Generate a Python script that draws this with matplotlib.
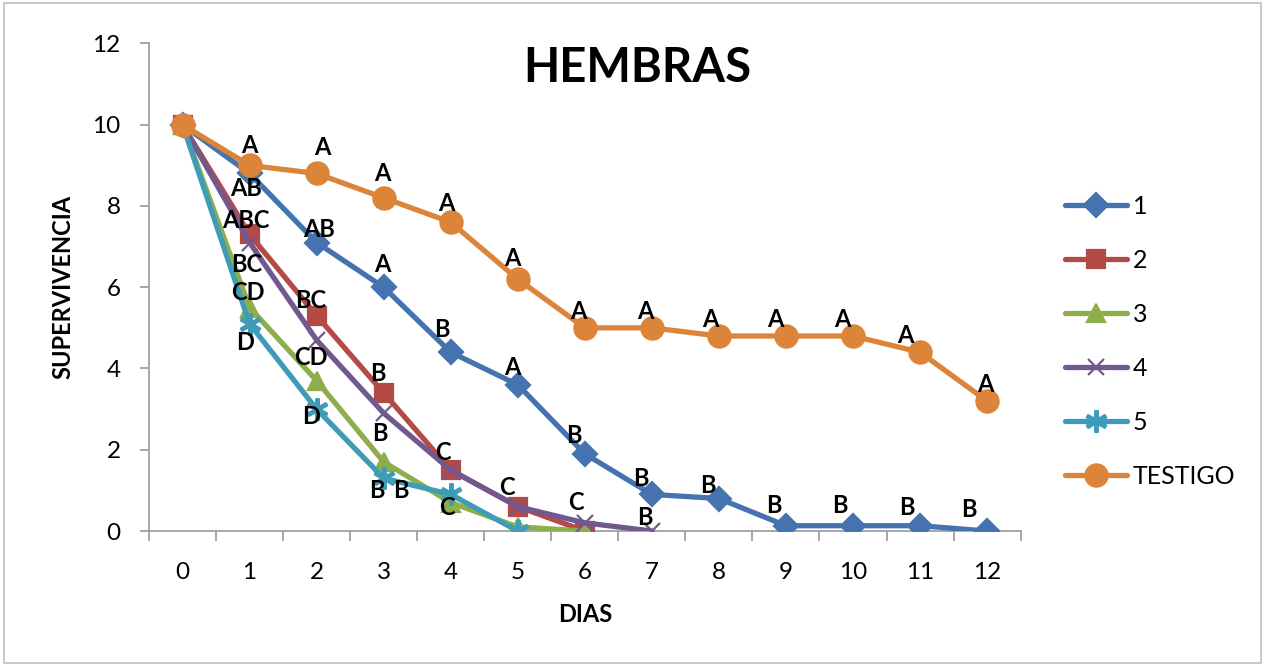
import matplotlib
matplotlib.use("Agg")
import matplotlib.pyplot as plt
from matplotlib.patches import Rectangle

plt.rcParams['font.family'] = ['Lato', 'DejaVu Sans']

dias = list(range(13))
s1 = [10, 8.8, 7.1, 6.0, 4.4, 3.6, 1.9, 0.9, 0.8, 0.13, 0.13, 0.13, 0.0]
s2 = [10, 7.3, 5.3, 3.4, 1.5, 0.6, 0.0]
s3 = [10, 5.5, 3.7, 1.7, 0.7, 0.1, 0.0]
s4 = [10, 7.1, 4.7, 2.9, 1.5, 0.6, 0.2, 0.0]
s5 = [10, 5.1, 3.0, 1.3, 0.9, 0.0]
testigo = [10, 9.0, 8.8, 8.2, 7.6, 6.2, 5.0, 5.0, 4.8, 4.8, 4.8, 4.4, 3.2]
names = ['1', '2', '3', '4', '5', 'TESTIGO']

# significance letters: (text, x, y) in data units
letras = [
    # TESTIGO
    ('A', 1, 9.5), ('A', 2.08, 9.45), ('A', 2.98, 8.8), ('A', 3.93, 8.05),
    ('A', 4.92, 6.7), ('A', 5.9, 5.4), ('A', 6.9, 5.4), ('A', 7.87, 5.2),
    ('A', 8.84, 5.2), ('A', 9.84, 5.2), ('A', 10.78, 4.8), ('A', 11.97, 3.6),
    # 1
    ('AB', 0.95, 8.43), ('AB', 2.03, 7.42), ('A', 2.98, 6.56), ('B', 3.87, 4.96),
    ('A', 4.92, 4.03), ('B', 5.84, 2.34), ('B', 6.83, 1.29), ('B', 7.84, 1.12),
    ('B', 8.82, 0.64), ('B', 9.8, 0.64), ('B', 10.8, 0.57), ('B', 11.73, 0.52),
    # 2
    ('ABC', 0.94, 7.64), ('BC', 1.91, 5.68), ('B', 2.92, 3.88), ('C', 3.89, 1.92),
    ('C', 4.84, 1.08),
    # 4
    ('BC', 0.95, 6.56), ('C', 5.87, 0.69), ('B', 6.9, 0.34),
    # 3
    ('CD', 0.98, 5.87), ('CD', 1.91, 4.27), ('B', 2.95, 2.41), ('C', 3.95, 0.59),
    # 5
    ('D', 0.94, 4.64), ('D', 1.92, 2.82), ('B', 2.9, 1.0), ('B', 3.25, 1.0),
]

colors = ['#4573B0', '#B44A46', '#8DAE4B', '#71588F', '#3E9CB8', '#DD843B']
markers = ['D', 's', '^', 'x', '$\u2217$', 'o']
msizes = [12, 13, 13, 12, 15, 16]

fig = plt.figure(figsize=(12.65, 6.66), dpi=100)
ax = fig.add_axes([0.1178, 0.2027, 0.689, 0.732])

series = [s1, s2, s3, s4, s5, testigo]
for i, (s, c, m, ms, nm) in enumerate(zip(series, colors, markers, msizes, names)):
    ax.plot(dias[:len(s)], s, color=c, lw=3.8, marker=m, markersize=ms,
            markeredgewidth=1.6, label=nm, zorder=3 + i,
            solid_capstyle='round')

for t, x, y in letras:
    ax.text(x, y, t, ha='center', va='center', fontsize=17, fontweight='bold',
            color='black', zorder=20)

ax.set_xlim(-0.5, 12.5)
ax.set_ylim(0, 12)
ax.set_yticks(range(0, 13, 2))
ax.set_xticks(dias)
ax.set_xticks([d - 0.5 for d in dias] + [12.5], minor=True)
ax.tick_params(axis='x', which='major', length=0, labelsize=17.5, pad=22)
ax.tick_params(axis='x', which='minor', length=7, width=1.3, color='#A0A0A0', direction='out')
ax.tick_params(axis='y', length=6.5, width=1.3, color='#A0A0A0', direction='out',
               labelsize=17.5, pad=14)
for sp in ['top', 'right']:
    ax.spines[sp].set_visible(False)
for sp in ['left', 'bottom']:
    ax.spines[sp].set_color('#A0A0A0')
    ax.spines[sp].set_linewidth(1.3)

fig.text(0.4625, 0.0766, 'DIAS', fontsize=17, fontweight='bold', ha='center', va='center')
fig.text(0.0498, 0.569, 'SUPERVIVENCIA', fontsize=17, fontweight='bold', ha='center',
         va='center', rotation=90)
fig.text(0.5036, 0.898, 'HEMBRAS', fontsize=34, fontweight='bold', ha='center', va='center')

leg = fig.legend(loc='upper left', bbox_to_anchor=(0.834, 0.722), frameon=False,
                 fontsize=18, handlelength=2.48, labelspacing=1.24, handletextpad=0.24,
                 borderaxespad=0)

fig.patches.append(Rectangle((0.003, 0.005), 0.994, 0.99, transform=fig.transFigure,
                             fill=False, edgecolor='#BFBFBF', lw=1.2))

fig.savefig('out.png', dpi=100)
